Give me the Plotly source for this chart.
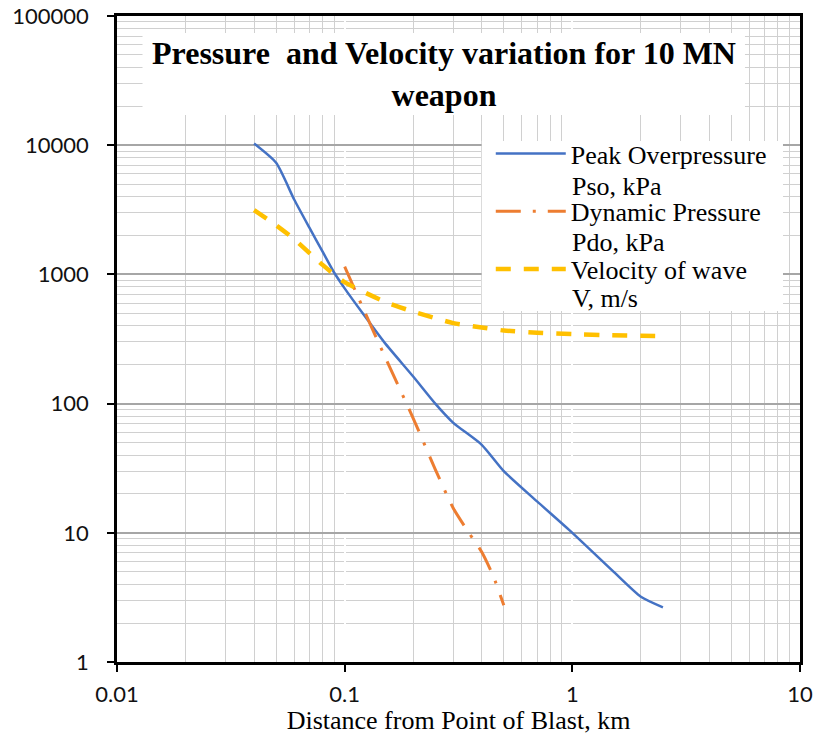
import plotly.graph_objects as go

# ---- data ----
dist_pso = [0.04, 0.05, 0.06, 0.07, 0.08, 0.09, 0.1, 0.12, 0.15, 0.2, 0.25, 0.3, 0.4, 0.5, 0.7, 1, 1.5, 2, 2.5]
pso = [10300, 7300, 3800, 2300, 1500, 1030, 780, 500, 295, 162, 100, 71, 48, 30, 17.5, 10, 5.1, 3.2, 2.65]

dist_pdo = [0.1, 0.12, 0.15, 0.2, 0.25, 0.3, 0.35, 0.4, 0.45, 0.5]
pdo = [1150, 555, 232, 77, 31, 15.5, 10.1, 7.1, 4.6, 2.75]

dist_vel = [0.04, 0.05, 0.06, 0.08, 0.1, 0.15, 0.2, 0.3, 0.4, 0.5, 0.7, 1, 1.5, 2, 2.5]
vel = [3150, 2400, 1875, 1185, 870, 615, 515, 420, 388, 368, 354, 345, 338, 335, 333]

x_tickvals = [0.01, 0.1, 1, 10]
x_ticktext = ["0.01", "0.1", "1", "10"]
y_tickvals = [1, 10, 100, 1000, 10000, 100000]
y_ticktext = ["1", "10", "100", "1000", "10000", "100000"]

# legend labels: first line in the legend, second line as wrapped continuation
names_line1 = ["Peak Overpressure", "Dynamic Pressure", "Velocity of wave"]
names_line2 = ["Pso, kPa", "Pdo, kPa", "V, m/s"]
title_text = "Pressure \u00a0and Velocity variation for 10 MN<br>weapon"
x_title = "Distance from Point of Blast, km"

serif = "Liberation Serif, Times New Roman, serif"
tick_font = dict(family="Lato, Open Sans, sans-serif", size=22, color="#111111")

fig = go.Figure()
fig.add_trace(go.Scatter(x=dist_pso, y=pso, mode="lines", name=names_line1[0], legendgroup="a",
                         line=dict(color="#4472C4", width=2.5, shape="spline", smoothing=0.6)))
fig.add_trace(go.Scatter(x=dist_pdo, y=pdo, mode="lines", name=names_line1[1], legendgroup="b",
                         line=dict(color="#ED7D31", width=3, dash="25px,12px,3px,12px",
                                   shape="spline", smoothing=0.6)))
fig.add_trace(go.Scatter(x=dist_vel, y=vel, mode="lines", name=names_line1[2], legendgroup="c",
                         line=dict(color="#FFC000", width=4.5, dash="15px,13px",
                                   shape="spline", smoothing=0.6)))

fig.update_xaxes(
    type="log", range=[-2, 1],
    tickvals=x_tickvals, ticktext=x_ticktext, tickfont=tick_font,
    showline=True, linecolor="black", linewidth=2.5, mirror=True,
    ticks="outside", ticklen=7, tickwidth=2, tickcolor="black",
    showgrid=True, gridcolor="white", gridwidth=2,
    minor=dict(dtick="D1", showgrid=True, gridcolor="#d0d0d0", gridwidth=1, ticks=""),
    title=dict(text=x_title, font=dict(family=serif, size=26, color="black"), standoff=0),
    ticklabelstandoff=4,
)
fig.update_yaxes(
    type="log", range=[0, 5],
    tickvals=y_tickvals, ticktext=y_ticktext, tickfont=tick_font,
    showline=True, linecolor="black", linewidth=2.5, mirror=True,
    ticks="outside", ticklen=7, tickwidth=2, tickcolor="black",
    showgrid=True, gridcolor="#a6a6a6", gridwidth=1.5,
    minor=dict(dtick="D1", showgrid=True, gridcolor="#d0d0d0", gridwidth=1, ticks=""),
    ticklabelstandoff=14,
)

def px_x(p):
    return (p - 117.5) / 682.5

def px_y(p):
    return (662 - p) / 646

# white boxes behind the in-plot title and the legend (no curve passes through them)
for (xa, xb, ya, yb) in [(143, 745, 115, 33), (482, 783, 311, 141)]:
    fig.add_shape(type="rect", xref="paper", yref="paper",
                  x0=px_x(xa), x1=px_x(xb), y0=px_y(ya), y1=px_y(yb),
                  fillcolor="white", line=dict(width=0), layer="above")

fig.add_annotation(text="<b>" + title_text + "</b>", xref="paper", yref="paper",
                   x=px_x(444), y=px_y(74), xanchor="center", yanchor="middle", showarrow=False,
                   font=dict(family=serif, size=32, color="black"))

for txt, ypx in zip(names_line2, [187, 243, 298]):
    fig.add_annotation(text=txt, xref="paper", yref="paper", x=px_x(570), y=px_y(ypx),
                       xanchor="left", yanchor="middle", showarrow=False,
                       font=dict(family=serif, size=26, color="black"))

fig.update_layout(
    width=815, height=735,
    margin=dict(l=117, r=15, t=16, b=73, autoexpand=False),
    paper_bgcolor="white", plot_bgcolor="white",
    showlegend=True,
    legend=dict(x=px_x(491), y=px_y(130), xanchor="left", yanchor="top",
                bgcolor="rgba(0,0,0,0)", borderwidth=0, itemwidth=70,
                traceorder="grouped", tracegroupgap=21,
                font=dict(family=serif, size=26, color="black")),
)

fig.write_html("out.html", config={"displayModeBar": False},
               post_script="document.body.style.margin='0px';")
